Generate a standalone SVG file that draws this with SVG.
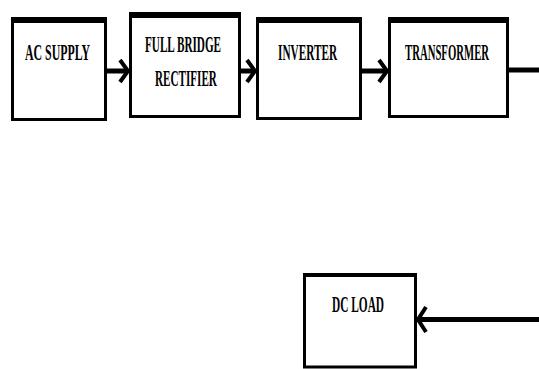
<svg xmlns="http://www.w3.org/2000/svg" width="539" height="369" viewBox="0 0 539 369">
  <style>
    .box { fill: #ffffff; stroke: #000000; stroke-width: 3; }
    .cap { fill: #000000; }
    .lbl { font-family: "Liberation Serif", "Times New Roman", serif; font-size: 24px; font-weight: bold; fill: #000000; }
    .wire { fill: none; stroke: #000000; stroke-width: 5; }
    .head { fill: none; stroke: #000000; stroke-width: 4; stroke-linejoin: miter; }
  </style>
  <rect width="539" height="369" fill="#ffffff"/>

  <!-- labels are set in a narrow, condensed face: horizontal squeeze per label -->
  <g id="ac-supply">
    <rect class="box" x="12.5" y="19" width="93" height="100.5"/>
    <rect class="cap" x="11" y="17" width="96" height="6"/>
    <text class="lbl" transform="translate(25 60) scale(0.485 1)" textLength="134" lengthAdjust="spacingAndGlyphs">AC SUPPLY</text>
  </g>

  <g id="full-bridge-rectifier">
    <rect class="box" x="130.5" y="14" width="109" height="102.5"/>
    <rect class="cap" x="129" y="12" width="112" height="6"/>
    <text class="lbl" transform="translate(145 52) scale(0.461 1)" textLength="165" lengthAdjust="spacingAndGlyphs">FULL BRIDGE</text>
    <text class="lbl" transform="translate(155 86) scale(0.465 1)" textLength="133" lengthAdjust="spacingAndGlyphs">RECTIFIER</text>
  </g>

  <g id="inverter">
    <rect class="box" x="257.5" y="19" width="103" height="99.5"/>
    <rect class="cap" x="256" y="17" width="106" height="6"/>
    <text class="lbl" transform="translate(278 60) scale(0.466 1)" textLength="127" lengthAdjust="spacingAndGlyphs">INVERTER</text>
  </g>

  <g id="transformer">
    <rect class="box" x="389.5" y="19" width="118" height="97.5"/>
    <rect class="cap" x="388" y="17" width="121" height="6"/>
    <text class="lbl" transform="translate(405 60) scale(0.447 1)" textLength="188" lengthAdjust="spacingAndGlyphs">TRANSFORMER</text>
  </g>

  <g id="dc-load">
    <rect class="box" x="304.5" y="275" width="111" height="92"/>
    <rect class="cap" x="303" y="273" width="114" height="4"/>
    <text class="lbl" transform="translate(332 312) scale(0.473 1)" textLength="110" lengthAdjust="spacingAndGlyphs">DC LOAD</text>
  </g>

  <g id="connectors">
    <!-- AC supply to rectifier -->
    <line class="wire" x1="107" y1="71" x2="127" y2="71"/>
    <polyline class="head" points="120,60 128,71 120,82"/>
    <!-- rectifier to inverter -->
    <line class="wire" x1="241" y1="71" x2="254" y2="71"/>
    <polyline class="head" points="247,60 255,71 247,82"/>
    <!-- inverter to transformer -->
    <line class="wire" x1="362" y1="71" x2="386" y2="71"/>
    <polyline class="head" points="379,60 387,71 379,82"/>
    <!-- transformer output leaving the page -->
    <line class="wire" x1="509" y1="70" x2="539" y2="70"/>
    <!-- return feed into the DC load -->
    <line class="wire" x1="539" y1="319.5" x2="419" y2="319.5"/>
    <polyline class="head" points="426,307 418,319.5 426,332"/>
  </g>
</svg>
